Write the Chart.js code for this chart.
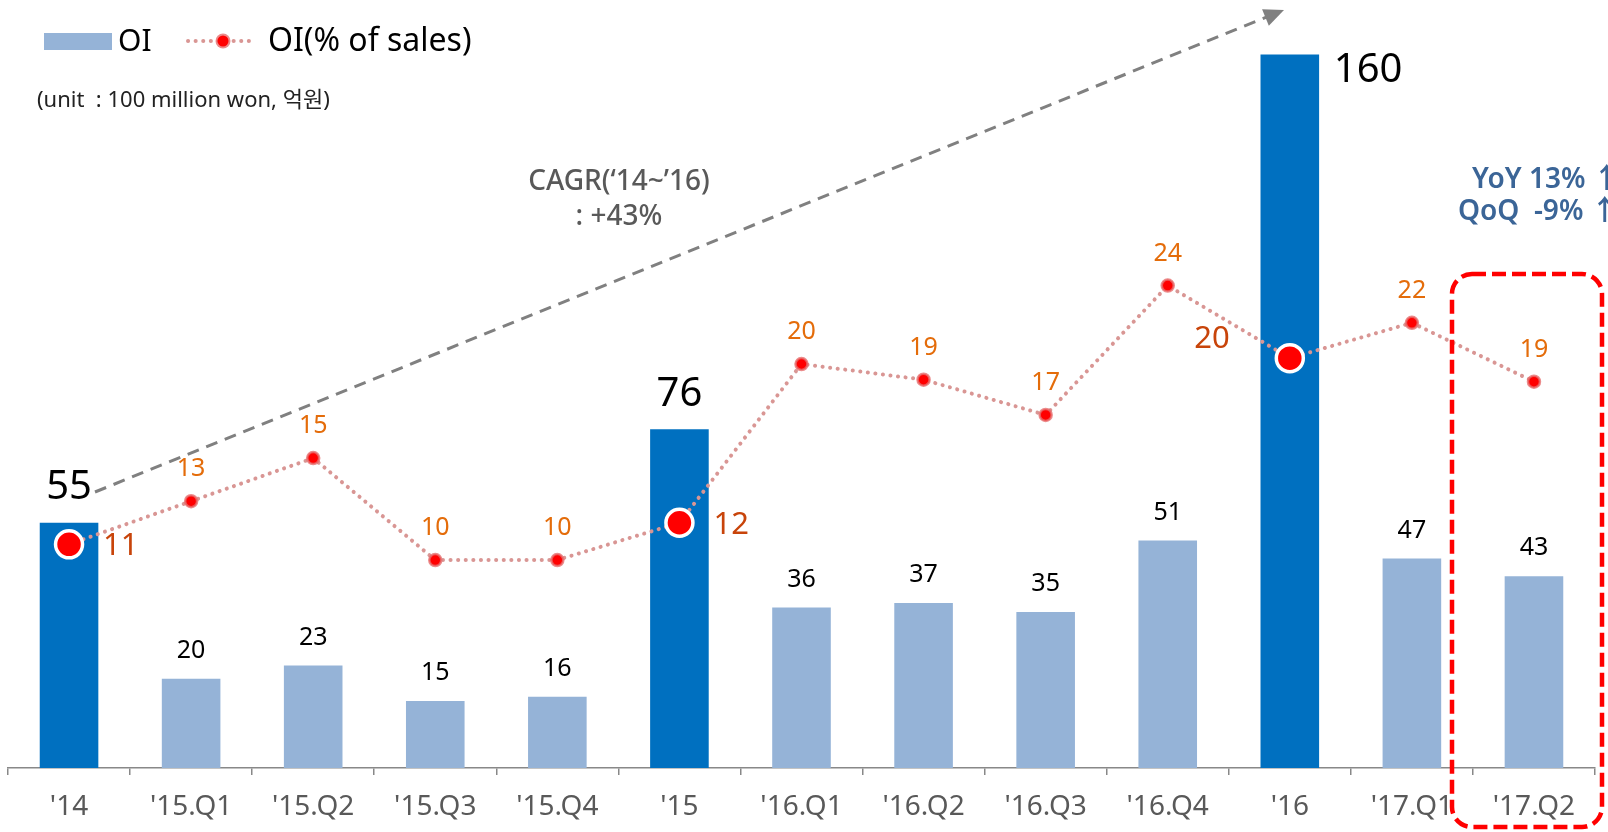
<!DOCTYPE html>
<html>
<head>
<meta charset="utf-8">
<script src="https://cdn.jsdelivr.net/npm/chart.js@4/dist/chart.umd.min.js"></script>
<style>
  html, body { margin: 0; padding: 0; background: #fff; }
  #oiChart { display: block; }
</style>
</head>
<body>
<canvas id="oiChart" width="1608" height="832"></canvas>
<script>
// data
const periods = ["'14", "'15.Q1", "'15.Q2", "'15.Q3", "'15.Q4", "'15", "'16.Q1", "'16.Q2", "'16.Q3", "'16.Q4", "'16", "'17.Q1", "'17.Q2"];
const oiValues = [55, 20, 23, 15, 16, 76, 36, 37, 35, 51, 160, 47, 43];
const oiPct = [10.8, 13.0, 15.2, 10.0, 10.0, 11.9, 20.0, 19.2, 17.4, 24.0, 20.3, 22.1, 19.1];
const pctLabels = [11, 13, 15, 10, 10, 12, 20, 19, 17, 24, 20, 22, 19];
const isAnnual = [true, false, false, false, false, true, false, false, false, false, true, false, false];

const FONT = '"Noto Sans", "Noto Sans CJK KR", sans-serif';
const DARK_BLUE = '#0070C0';
const LIGHT_BLUE = '#95B3D7';

// labels, legend and annotations drawn on the canvas
const overlayPlugin = {
    id: 'overlay',
    afterDatasetsDraw(chart) {
        const ctx = chart.ctx;
        const bars = chart.getDatasetMeta(0).data;
        const pts = chart.getDatasetMeta(1).data;
        ctx.save();
        ctx.textBaseline = 'middle';

        // bar value labels
        bars.forEach((bar, i) => {
            ctx.fillStyle = '#000';
            if (isAnnual[i]) {
                ctx.font = '40px ' + FONT;
                if (i === 10) {
                    ctx.textAlign = 'left';
                    ctx.fillText(oiValues[i], bar.x + 44, bar.y + 16);
                } else {
                    ctx.textAlign = 'center';
                    ctx.fillText(oiValues[i], bar.x, bar.y - 35);
                }
            } else {
                ctx.font = '25px ' + FONT;
                ctx.textAlign = 'center';
                ctx.fillText(oiValues[i], bar.x, bar.y - 28);
            }
        });

        // % labels
        pts.forEach((p, i) => {
            if (isAnnual[i]) {
                ctx.font = '31px ' + FONT;
                ctx.fillStyle = '#C8440A';
                if (i === 10) {
                    ctx.textAlign = 'right';
                    ctx.fillText(pctLabels[i], p.x - 60, p.y - 19);
                } else {
                    ctx.textAlign = 'left';
                    ctx.fillText(pctLabels[i], p.x + 34, p.y + 2);
                }
            } else {
                ctx.font = '25px ' + FONT;
                ctx.fillStyle = '#E46C0A';
                ctx.textAlign = 'center';
                ctx.fillText(pctLabels[i], p.x, p.y - 32);
            }
        });
        ctx.restore();
    },
    afterDraw(chart) {
        const ctx = chart.ctx;
        ctx.save();

        // legend
        ctx.fillStyle = LIGHT_BLUE;
        ctx.fillRect(44, 33, 68, 17);
        ctx.fillStyle = '#000';
        ctx.font = '30px ' + FONT;
        ctx.textAlign = 'left';
        ctx.textBaseline = 'middle';
        ctx.fillText('OI', 118, 42);
        ctx.strokeStyle = '#D99694';
        ctx.lineWidth = 4;
        ctx.lineCap = 'round';
        ctx.setLineDash([0.1, 7.5]);
        ctx.beginPath();
        ctx.moveTo(188, 41);
        ctx.lineTo(256, 41);
        ctx.stroke();
        ctx.setLineDash([]);
        ctx.fillStyle = 'rgba(230,110,110,0.8)';
        ctx.beginPath();
        ctx.arc(223, 41, 7.5, 0, Math.PI * 2);
        ctx.fill();
        ctx.fillStyle = '#FF0000';
        ctx.beginPath();
        ctx.arc(223, 41, 5.5, 0, Math.PI * 2);
        ctx.fill();
        ctx.fillStyle = '#000';
        ctx.font = '32px ' + FONT;
        ctx.fillText('OI(% of sales)', 268, 42);

        ctx.font = '22px ' + FONT;
        ctx.fillStyle = '#222';
        ctx.fillText('(unit  : 100 million won, 억원)', 37, 101);

        // CAGR arrow
        const x0 = 95, y0 = 492, x1 = 1284, y1 = 10;
        const ang = Math.atan2(y1 - y0, x1 - x0);
        ctx.strokeStyle = '#808080';
        ctx.lineWidth = 3;
        ctx.lineCap = 'butt';
        ctx.setLineDash([12, 8]);
        ctx.beginPath();
        ctx.moveTo(x0, y0);
        ctx.lineTo(x1 - 14 * Math.cos(ang), y1 - 14 * Math.sin(ang));
        ctx.stroke();
        ctx.setLineDash([]);
        ctx.fillStyle = '#808080';
        ctx.beginPath();
        ctx.moveTo(x1, y1);
        ctx.lineTo(x1 - 20 * Math.cos(ang) + 9 * Math.sin(ang), y1 - 20 * Math.sin(ang) - 9 * Math.cos(ang));
        ctx.lineTo(x1 - 20 * Math.cos(ang) - 9 * Math.sin(ang), y1 - 20 * Math.sin(ang) + 9 * Math.cos(ang));
        ctx.closePath();
        ctx.fill();

        ctx.fillStyle = '#595959';
        ctx.font = '500 28px ' + FONT;
        ctx.textAlign = 'center';
        ctx.fillText('CAGR(\u201814~\u201916)', 619, 182);
        ctx.fillText(': +43%', 619, 217);

        // YoY / QoQ note
        ctx.fillStyle = '#3B6597';
        ctx.font = '600 28px ' + FONT;
        ctx.textAlign = 'left';
        ctx.fillText('YoY 13% \u2191', 1472, 180);
        ctx.fillText('QoQ  -9% \u2191', 1458, 212);

        // red dashed box around '17.Q2
        ctx.strokeStyle = '#FF0000';
        ctx.lineWidth = 4.5;
        ctx.setLineDash([14, 6]);
        ctx.beginPath();
        ctx.roundRect(1452, 274, 150, 553, 20);
        ctx.stroke();
        ctx.restore();
    }
};

const ctxEl = document.getElementById('oiChart').getContext('2d');
const oiChart = new Chart(ctxEl, {
    data: {
        labels: periods,
        datasets: [
            {
                type: 'bar',
                label: 'OI',
                data: oiValues,
                backgroundColor: isAnnual.map(a => a ? DARK_BLUE : LIGHT_BLUE),
                barPercentage: 0.48,
                categoryPercentage: 1,
                yAxisID: 'y',
                order: 2
            },
            {
                type: 'line',
                label: 'OI(% of sales)',
                data: oiPct,
                yAxisID: 'y1',
                borderColor: '#D99694',
                borderWidth: 4,
                borderDash: [0.1, 7.5],
                borderCapStyle: 'round',
                tension: 0,
                pointRadius: isAnnual.map(a => a ? 13.5 : 6),
                pointBorderWidth: isAnnual.map(a => a ? 3.5 : 2.5),
                pointBorderColor: isAnnual.map(a => a ? '#FFFFFF' : 'rgba(230,110,110,0.8)'),
                pointBackgroundColor: '#FF0000',
                order: 1
            }
        ]
    },
    options: {
        responsive: false,
        animation: false,
        devicePixelRatio: 1,
        layout: { autoPadding: false, padding: { top: 10, left: 8, right: 13, bottom: 0 } },
        plugins: {
            legend: { display: false },
            tooltip: { enabled: false }
        },
        scales: {
            x: {
                offset: true,
                grid: {
                    offset: true,
                    drawOnChartArea: false,
                    drawTicks: true,
                    tickLength: 7,
                    color: '#888',
                    lineWidth: 1.5
                },
                border: { display: true, color: '#888', width: 1.5 },
                ticks: {
                    color: '#595959',
                    font: { family: FONT, size: 28 },
                    padding: 15,
                    maxRotation: 0,
                    autoSkip: false
                },
                afterFit(scale) { scale.height = 64; }
            },
            y: { display: false, min: 0, max: 170 },
            y1: { display: false, min: -0.61, max: 38.06, position: 'right' }
        }
    },
    plugins: [overlayPlugin]
});
</script>
</body>
</html>
